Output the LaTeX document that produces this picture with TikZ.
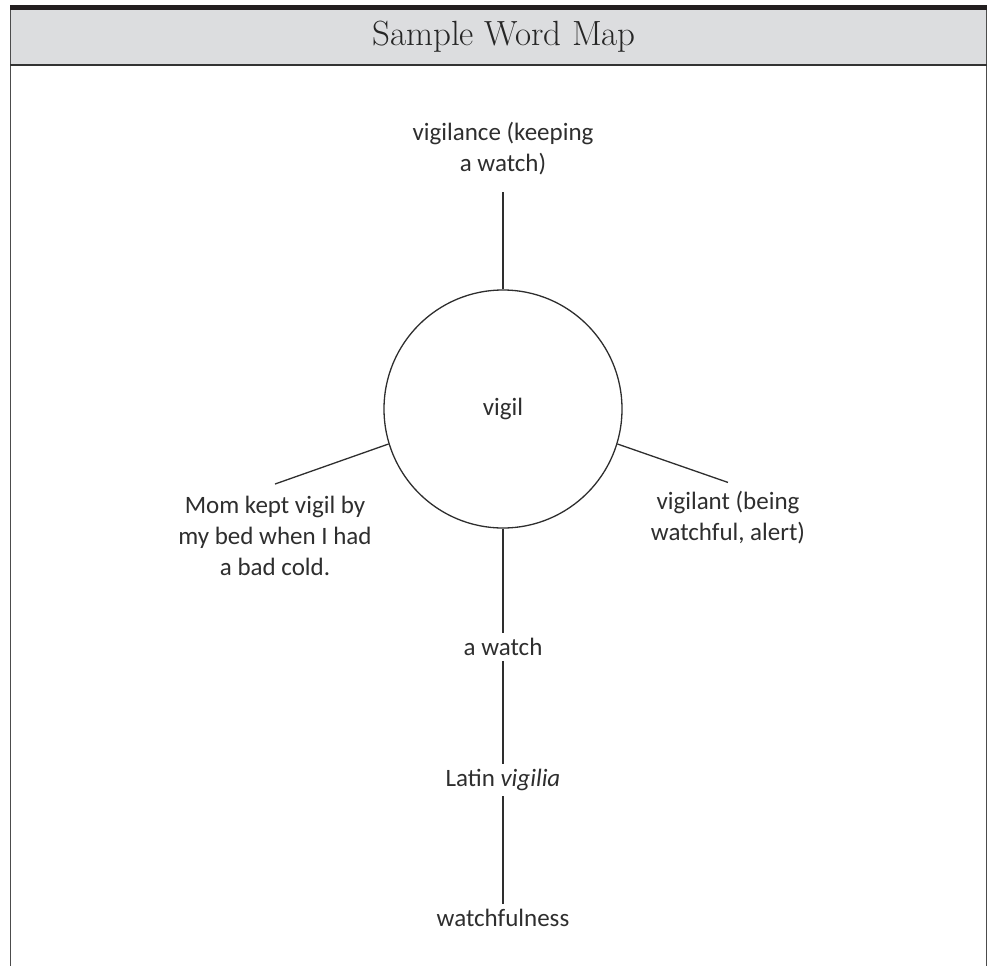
\documentclass[tikz,border=0pt]{standalone}
\usepackage{fontspec}
\setsansfont{Carlito}
\usetikzlibrary{positioning}
\definecolor{bandgray}{HTML}{DCDDDF}
\definecolor{inkgray}{HTML}{2E2E2E}
\definecolor{topbar}{HTML}{231F20}

\begin{document}
\begin{tikzpicture}[x=1pt, y=-1pt,
  conn/.style={draw=inkgray, line width=1.3pt},
  word/.style={text=inkgray, align=center, font=\sffamily\fontsize{25}{31}\selectfont, inner sep=5pt},
  hub/.style={circle, draw=inkgray, line width=1.3pt, minimum size=238pt, inner sep=0pt,
              text=inkgray, font=\sffamily\fontsize{25}{31}\selectfont}]
  \useasboundingbox (0,0) rectangle (996,966);
  % frame and title band
  \fill[bandgray] (10,10) rectangle (987,65);
  \fill[topbar] (10,5) rectangle (987,10);
  \draw[line width=1.2pt, draw=black!70] (10.6,10) -- (10.6,966) (986.4,10) -- (986.4,966);
  \draw[line width=2pt, draw=black!80] (10,65) -- (987,65);
  \node[font=\rmfamily\fontsize{35}{35}\selectfont, text=black!85] (title) at (504,37) {Sample Word Map};

  \node[hub] (core) at (503,409) {vigil};
  \node[word, inner sep=16pt] (above) at (503,149) {vigilance (keeping\\a watch)};
  \node[word, inner sep=12pt] (story) at (275,536) {Mom kept vigil by\\my bed when I had\\a bad cold.};
  \node[word, inner sep=9pt] (adj) at (728,518) {vigilant (being\\watchful, alert)};
  \node[word] (meaning) at (503,647) {a watch};
  \node[word] (origin) at (503,780) {Latin \textit{vigilia}};
  \node[word] (sense) at (503,918) {watchfulness};

  \draw[conn] (core.north) -- (above.south);
  \draw[conn] (core.197) -- (story.north);
  \draw[conn] (core.-17) -- (adj.north);
  \draw[conn] (core.south) -- (meaning.north);
  \draw[conn] (meaning.south) -- (origin.north);
  \draw[conn] (origin.south) -- (sense.north);
\end{tikzpicture}
\end{document}
